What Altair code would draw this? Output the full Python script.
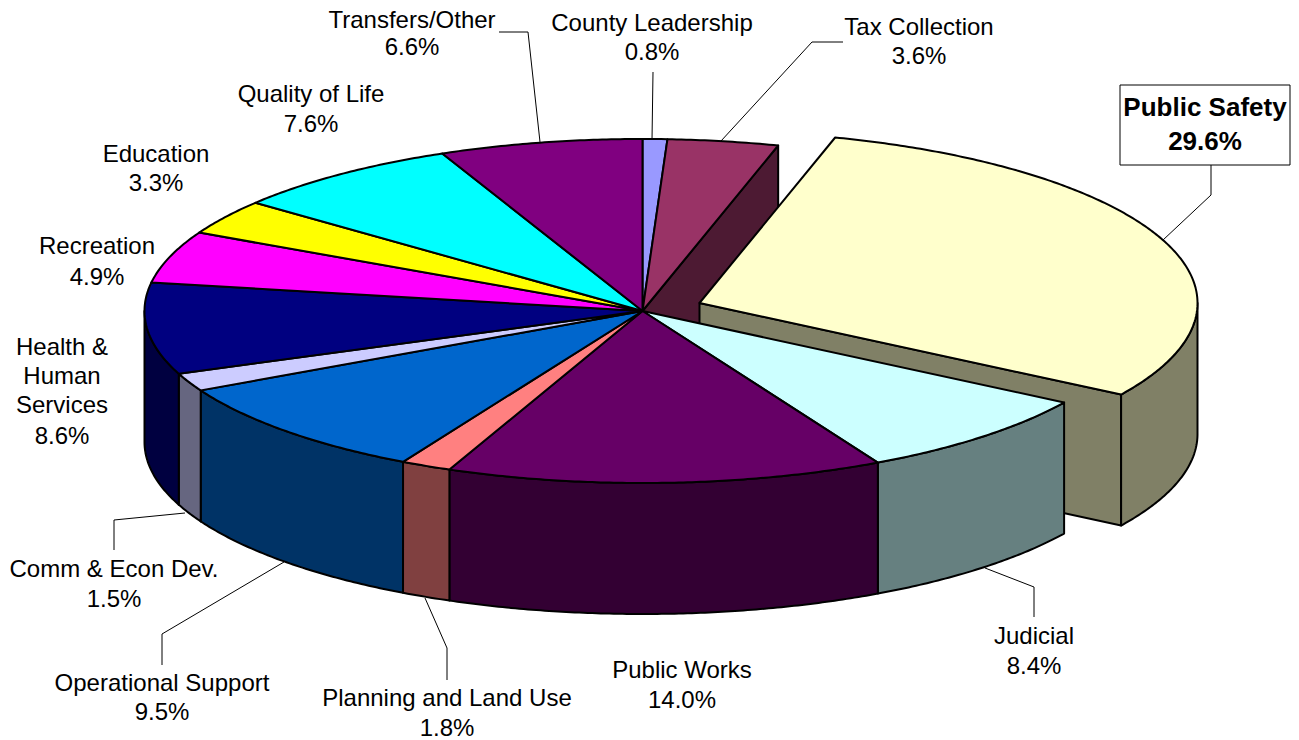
import math
import altair as alt

# ---- data ----
names = ["County Leadership", "Tax Collection", "Public Safety", "Judicial", "Public Works",
         "Planning and Land Use", "Operational Support", "Comm & Econ Dev.",
         "Health &\nHuman\nServices", "Recreation", "Education", "Quality of Life", "Transfers/Other"]
values = [0.8, 3.6, 29.6, 8.4, 14.0, 1.8, 9.5, 1.5, 8.6, 4.9, 3.3, 7.6, 6.6]
# share of the circle each slice visibly takes in the picture (the printed labels are rounded)
drawn_shares = [0.8, 3.6, 29.6, 8.25, 14.2, 1.65, 9.4, 1.7, 8.6, 4.9, 3.3, 7.6, 6.6]
top_colors = ["#9999FF", "#993366", "#FFFFCC", "#CCFFFF", "#660066", "#FF8080", "#0066CC",
              "#CCCCFF", "#000080", "#FF00FF", "#FFFF00", "#00FFFF", "#800080"]
side_colors = ["#4D4D80", "#4D1A33", "#808066", "#668080", "#330033", "#804040", "#003366",
               "#666680", "#000040", "#800080", "#808000", "#008080", "#400040"]

# ---- layout (page pixels) ----
W, H = 1283, 732
OFF = 8
CX, CY, RX, RY, DEPTH = 642.5, 311, 498, 172, 131
EXPLODE = (57, -8)          # offset of the pulled-out slice
exploded = "Public Safety"
label_x = [652, 919, 1205, 1034, 682, 447, 162, 114, 62, 97, 156, 311, 412]
label_y = [[24, 53], [28, 57], [108, 142], [637, 667], [671, 701], [699, 729], [684, 713],
           [570, 600], [348, 377, 406, 437], [247, 278], [155, 184], [95, 125], [21, 48]]
leaders = [
    [(653, 72), (652, 140)],
    [(843, 42), (812, 42), (721, 141)],
    [(1211, 165), (1211, 195), (1163, 240)],
    [(1034, 617), (1034, 587), (985, 568)],
    [(447, 680), (447, 648), (425, 598)],
    [(162, 665), (162, 634), (284, 562)],
    [(114, 550), (114, 520), (185, 513)],
    [(499, 32), (528, 32), (540, 142)],
]
box = [(1120, 85), (1290, 85), (1290, 165), (1120, 165)]


def px(pts):
    return [[x - OFF, y - OFF] for x, y in pts]


def polygon(pts, fill):
    ring = px(pts)
    ring.append(ring[0])
    return {"type": "Feature", "properties": {"fill": fill},
            "geometry": {"type": "Polygon", "coordinates": [ring]}}


def rim(t, cx, cy, dy=0):
    a = math.radians(t)
    return (cx + RX * math.sin(a), cy - RY * math.cos(a) + dy)


def arc(a, b, cx, cy, dy=0):
    n = max(2, int(abs(b - a)) * 2)
    return [rim(a + (b - a) * i / n, cx, cy, dy) for i in range(n + 1)]


total = sum(drawn_shares)
starts, acc = [], 0.0
for v in drawn_shares:
    starts.append(acc)
    acc += v
slices = []
for n, v, s, top, side in zip(names, drawn_shares, starts, top_colors, side_colors):
    a, b = s / total * 360, (s + v) / total * 360
    cx, cy = (CX + EXPLODE[0], CY + EXPLODE[1]) if n == exploded else (CX, CY)
    slices.append(dict(name=n, a=a, b=b, cx=cx, cy=cy, top=top, side=side))


def top_face(s):
    return polygon([(s["cx"], s["cy"])] + arc(s["a"], s["b"], s["cx"], s["cy"]), s["top"])


def outer_wall(s):
    lo, hi = max(s["a"], 90), min(s["b"], 270)
    if lo >= hi:
        return None
    return polygon(arc(lo, hi, s["cx"], s["cy"]) + arc(hi, lo, s["cx"], s["cy"], DEPTH), s["side"])


def cut_wall(s, t):
    p, q = (s["cx"], s["cy"]), rim(t, s["cx"], s["cy"])
    return polygon([p, q, (q[0], q[1] + DEPTH), (p[0], p[1] + DEPTH)], s["side"])


ps = next(s for s in slices if s["name"] == exploded)
tax = slices[names.index(exploded) - 1]
others = [s for s in slices if s is not ps]

faces = [cut_wall(tax, tax["b"])]
# back slices' tops first, then the pulled-out slice
faces += [top_face(s) for s in others if s["b"] <= ps["a"] + 0.001]
faces += [cut_wall(ps, ps["b"]), outer_wall(ps), top_face(ps)]
faces += [outer_wall(s) for s in others if outer_wall(s)]
faces += [top_face(s) for s in others if s["b"] > ps["a"] + 0.001]

projection = alt.Projection(type="identity", scale=1, translate=[0, 0])

pie = alt.Chart(alt.Data(values=faces)).mark_geoshape(
    stroke="black", strokeWidth=2, strokeJoin="round"
).encode(fill=alt.Fill("properties.fill:N", scale=None)).project(**projection.to_dict())

lead_features = [{"type": "Feature", "properties": {},
                  "geometry": {"type": "LineString", "coordinates": px(l)}} for l in leaders]
lead = alt.Chart(alt.Data(values=lead_features)).mark_geoshape(
    filled=False, stroke="black", strokeWidth=1
).project(**projection.to_dict())

box_layer = alt.Chart(alt.Data(values=[polygon(box, "white")])).mark_geoshape(
    fill="white", stroke="black", strokeWidth=1
).project(**projection.to_dict())

rows = []
for n, v, lx, ys in zip(names, values, label_x, label_y):
    lines = n.split("\n") + [f"{v:.1f}%"]
    for line, y in zip(lines, ys):
        rows.append({"t": line, "lon": lx - OFF, "lat": y - OFF, "b": n == exploded})

text_normal = alt.Chart(alt.Data(values=[r for r in rows if not r["b"]])).mark_text(
    font="Liberation Sans", fontSize=24, color="black", align="center", baseline="middle"
).encode(longitude="lon:Q", latitude="lat:Q", text="t:N").project(**projection.to_dict())
text_bold = alt.Chart(alt.Data(values=[r for r in rows if r["b"]])).mark_text(
    font="Liberation Sans", fontSize=26, fontWeight="bold", color="black", align="center", baseline="middle"
).encode(longitude="lon:Q", latitude="lat:Q", text="t:N").project(**projection.to_dict())

chart = alt.layer(lead, pie, box_layer, text_normal, text_bold).properties(
    width=W, height=H, padding=0, autosize=alt.AutoSizeParams(type="none")
).configure_view(stroke=None)

chart.save("out.html", embed_options={"renderer": "svg", "actions": False})
